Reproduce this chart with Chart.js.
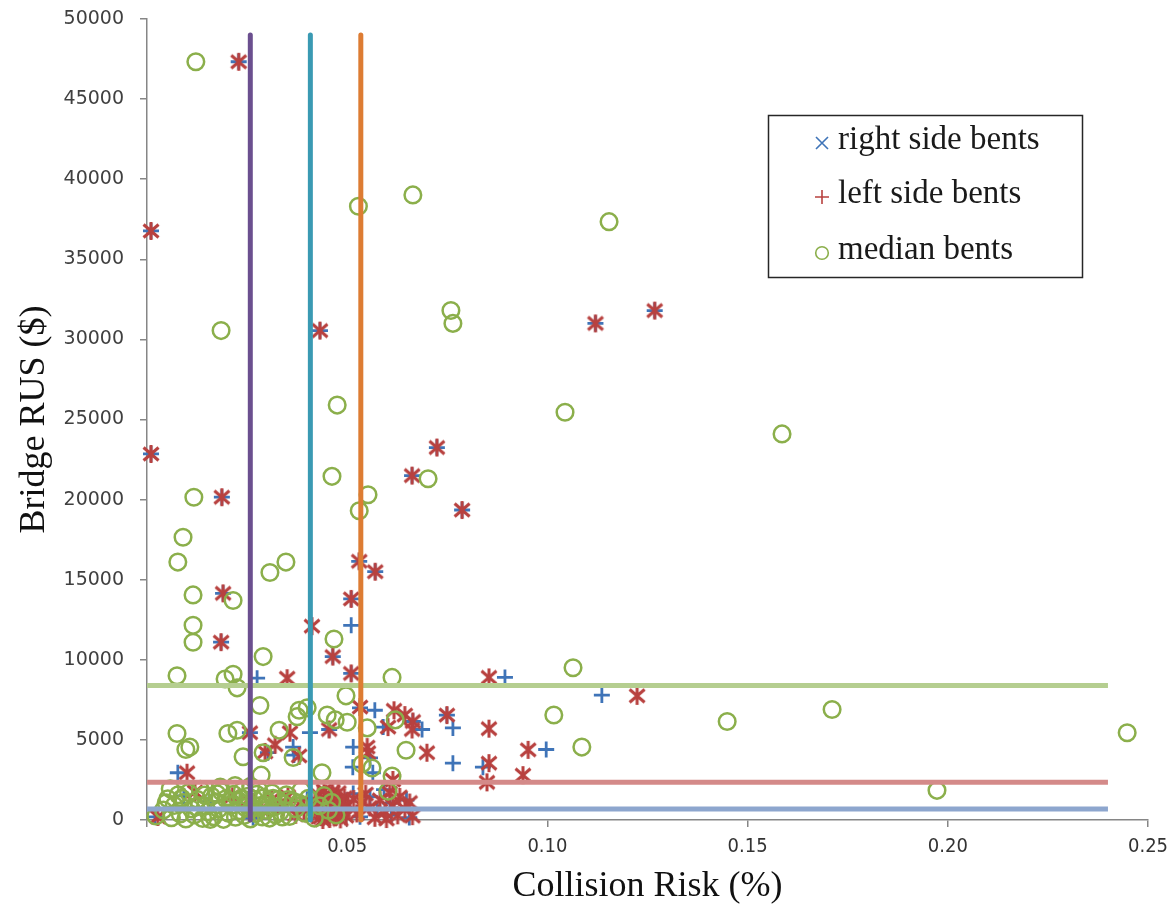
<!DOCTYPE html>
<html>
<head>
<meta charset="utf-8">
<title>Bridge RUS vs Collision Risk</title>
<script src="https://cdn.jsdelivr.net/npm/chart.js@4.4.1/dist/chart.umd.min.js"></script>
<style>
  html, body { margin: 0; padding: 0; background: #fff; }
  #wrap { width: 1167px; height: 913px; }
</style>
</head>
<body>
<div id="wrap"><canvas id="riskChart" width="1167" height="913"></canvas></div>
<script>
// series names as in the legend
const seriesNames = ["right side bents", "left side bents", "median bents"]

// [collision risk (%), bridge RUS ($)]
const rightSide = [
  [0.0229, 47330], [0.001, 36770], [0.001, 22850], [0.0187, 20150], [0.0432, 30550],
  [0.112, 31000], [0.1268, 31800], [0.0724, 23250], [0.0787, 19350], [0.0662, 21500],
  [0.053, 16150], [0.057, 15500], [0.019, 14150], [0.051, 13800], [0.051, 12150],
  [0.0185, 11100], [0.0464, 10200], [0.051, 9150], [0.0275, 8850], [0.0894, 8900],
  [0.0532, 7000], [0.0569, 6850], [0.1136, 7800], [0.0749, 6550], [0.0664, 6150],
  [0.0687, 5650], [0.0764, 5750], [0.059, 5800], [0.0455, 5650], [0.0407, 5450],
  [0.0257, 5450], [0.0997, 4400], [0.0515, 4550], [0.0365, 4550], [0.0302, 4200],
  [0.0367, 4050], [0.0557, 3880], [0.0764, 3550], [0.0839, 3300], [0.0514, 3300],
  [0.0564, 2950], [0.0077, 2950], [0.0092, 1500], [0.002, 200], [0.0155, 1150],
  [0.040, 1300], [0.0402, 800], [0.0445, 250], [0.048, 1250], [0.0515, 1650],
  [0.0557, 1450], [0.0532, 200], [0.0575, 650], [0.0607, 1050], [0.0648, 1250],
  [0.061, 300], [0.0265, 150], [0.033, 900], [0.0592, 1900], [0.0655, 150]
]

const leftSide = [
  [0.0229, 47330], [0.001, 36770], [0.001, 22850], [0.0187, 20150], [0.0432, 30550],
  [0.112, 31000], [0.1268, 31800], [0.0724, 23250], [0.0787, 19350], [0.0662, 21500],
  [0.053, 16150], [0.057, 15500], [0.019, 14150], [0.051, 13800], [0.0412, 12100],
  [0.0185, 11100], [0.0464, 10200], [0.051, 9150], [0.035, 8850], [0.0854, 8900],
  [0.1224, 7750], [0.0532, 7050], [0.0617, 6850], [0.0644, 6550], [0.0749, 6550],
  [0.0664, 6150], [0.0662, 5650], [0.0854, 5700], [0.0602, 5800], [0.0455, 5650],
  [0.0357, 5450], [0.0257, 5450], [0.0699, 4200], [0.0952, 4380], [0.055, 4550],
  [0.032, 4700], [0.0295, 4250], [0.038, 4000], [0.0552, 4200], [0.0854, 3550],
  [0.0849, 2350], [0.0939, 2800], [0.0614, 2500], [0.01, 2950], [0.012, 1750],
  [0.0027, 190], [0.0253, 1250], [0.0312, 1280], [0.034, 780], [0.0352, 1460],
  [0.0371, 320], [0.0383, 1020], [0.0392, 610], [0.0413, 290], [0.0419, 1130],
  [0.0424, 640], [0.0428, 1560], [0.0434, 180], [0.0437, 930], [0.0442, 1830],
  [0.0444, 430], [0.0448, 1240], [0.0451, 720], [0.0456, 60], [0.0458, 1490],
  [0.0462, 1010], [0.0466, 480], [0.0469, 1320], [0.0471, 190], [0.0475, 860],
  [0.0478, 1710], [0.0481, 390], [0.0485, 1120], [0.0489, 590], [0.0493, 1400],
  [0.0497, 240], [0.0502, 960], [0.0516, 1310], [0.0524, 410], [0.0546, 1620],
  [0.0556, 790], [0.0569, 140], [0.0582, 1260], [0.0594, 510], [0.0606, 1690],
  [0.0614, 880], [0.0626, 290], [0.0631, 1440], [0.0644, 690], [0.0656, 1090],
  [0.0663, 240], [0.0429, 1010], [0.0446, 1580], [0.0463, 1760], [0.0476, 1190],
  [0.0491, 830], [0.0439, 0], [0.0483, 40], [0.0538, 1100], [0.0598, 60],
  [0.0213, 1480], [0.0287, 620]
]

const medianBents = [
  [0.0122, 47330], [0.0528, 38310], [0.0664, 39020], [0.1154, 37350], [0.0185, 30550],
  [0.0759, 31800], [0.0764, 31000], [0.0475, 25900], [0.1044, 25450], [0.1586, 24100],
  [0.0462, 21450], [0.0702, 21300], [0.0117, 20150], [0.0552, 20300], [0.053, 19300],
  [0.009, 17650], [0.0077, 16100], [0.0347, 16100], [0.0307, 15450], [0.0115, 14050],
  [0.0215, 13700], [0.0115, 12150], [0.0115, 11100], [0.0467, 11300], [0.029, 10200],
  [0.1064, 9500], [0.0075, 9000], [0.0195, 8800], [0.0215, 9100], [0.0225, 8250],
  [0.0612, 8900], [0.0497, 7750], [0.0282, 7150], [0.038, 6850], [0.040, 7000],
  [0.0375, 6450], [0.045, 6550], [0.047, 6250], [0.050, 6100], [0.062, 6250],
  [0.055, 5750], [0.1016, 6550], [0.1449, 6150], [0.1711, 6900], [0.2448, 5450],
  [0.1086, 4550], [0.1973, 1850], [0.0075, 5400], [0.0097, 4400], [0.0107, 4550],
  [0.0202, 5400], [0.0225, 5600], [0.024, 3950], [0.033, 5600], [0.029, 4200],
  [0.0365, 3900], [0.0537, 3500], [0.0562, 3250], [0.0647, 4350], [0.0437, 2950],
  [0.0602, 1800], [0.0612, 2750], [0.0285, 2800], [0.022, 2150],
  [0.0022, 250], [0.0041, 620], [0.0052, 1330], [0.0061, 140], [0.0068, 910],
  [0.0078, 1580], [0.0083, 380], [0.0091, 1090], [0.0097, 60], [0.0104, 1720],
  [0.0111, 690], [0.0118, 310], [0.0126, 1280], [0.0133, 1910], [0.0139, 90],
  [0.0146, 870], [0.0152, 520], [0.0161, 1490], [0.0166, 210], [0.0171, 1130],
  [0.0179, 680], [0.0186, 1770], [0.0191, 40], [0.0197, 1320], [0.0203, 430],
  [0.0211, 940], [0.0216, 1600], [0.0221, 170], [0.0228, 1210], [0.0232, 580],
  [0.0238, 1830], [0.0243, 290], [0.0249, 1020], [0.0252, 1480], [0.0258, 70],
  [0.0263, 730], [0.0268, 1290], [0.0272, 410], [0.0279, 1880], [0.0283, 900],
  [0.0288, 190], [0.0292, 1390], [0.0297, 610], [0.0301, 1110], [0.0306, 120],
  [0.0312, 1690], [0.0317, 790], [0.0321, 330], [0.0327, 1270], [0.0333, 520],
  [0.0341, 980], [0.0348, 1580], [0.0356, 220], [0.0364, 1190], [0.0372, 700],
  [0.0385, 1860], [0.0394, 430], [0.0403, 1350], [0.0418, 120], [0.0431, 890],
  [0.0442, 1520], [0.0453, 610], [0.0461, 1110], [0.0472, 310],
  [0.0058, 1950], [0.0087, 1350], [0.0122, 820], [0.0143, 1560], [0.0158, 30],
  [0.0175, 1630], [0.0207, 1160], [0.0236, 1360], [0.0246, 770], [0.0274, 1600],
  [0.0295, 930], [0.0315, 1350], [0.0338, 190], [0.0352, 1270], [0.0379, 1060],
  [0.0048, 1070], [0.0183, 2050], [0.0259, 2100]
]

// reference lines: three risk thresholds, three mean RUS levels
const riskLines = [0.0258, 0.0408, 0.0534]
const rusLines = [8400, 2350, 690]
const riskLineTop = 49000
const rusLineEnd = 0.24

const riskColors = ["#6B4F8F", "#3A9AB3", "#DD7C33"]
const rusColors = ["#B5CE90", "#D48A89", "#8DA6CE"]
const blue = "#3F74B8"
const red = "#B8413F"
const green = "#8BAF4B"

// Excel style star marker: x with a vertical bar
function starMarker(color) {
  const c = document.createElement("canvas")
  c.width = 20
  c.height = 20
  const g = c.getContext("2d")
  g.strokeStyle = color
  g.lineWidth = 3
  g.beginPath()
  g.moveTo(2.5, 3.5); g.lineTo(17.5, 16.5)
  g.moveTo(17.5, 3.5); g.lineTo(2.5, 16.5)
  g.moveTo(10, 1); g.lineTo(10, 19)
  g.stroke()
  return c
}

function toPoints(rows) {
  return rows.map(r => ({ x: r[0], y: r[1] }))
}

const lineSets = []
riskLines.forEach((v, i) => {
  lineSets.push({
    label: "risk " + i,
    data: [{ x: v, y: 0 }, { x: v, y: riskLineTop }],
    showLine: true, pointRadius: 0, borderWidth: 5,
    borderColor: riskColors[i], borderCapStyle: "round", order: 0, clip: false
  })
})
rusLines.forEach((v, i) => {
  lineSets.push({
    label: "rus " + i,
    data: [{ x: 0, y: v }, { x: rusLineEnd, y: v }],
    showLine: true, pointRadius: 0, borderWidth: 5,
    borderColor: rusColors[i], borderCapStyle: "butt", order: 0, clip: false
  })
})

const legendBox = {
  id: "legendBox",
  afterDraw(chart) {
    const ctx = chart.ctx
    ctx.save()
    ctx.fillStyle = "#fff"
    ctx.fillRect(768, 115, 315, 163)
    ctx.strokeStyle = "#262626"
    ctx.lineWidth = 1.5
    ctx.strokeRect(768.5, 115.5, 314, 162)

    const rows = [143, 197, 253]
    const mx = 822
    ctx.lineWidth = 1.6
    // x
    ctx.strokeStyle = blue
    ctx.beginPath()
    ctx.moveTo(mx - 6, rows[0] - 6); ctx.lineTo(mx + 6, rows[0] + 6)
    ctx.moveTo(mx + 6, rows[0] - 6); ctx.lineTo(mx - 6, rows[0] + 6)
    ctx.stroke()
    // +
    ctx.strokeStyle = red
    ctx.beginPath()
    ctx.moveTo(mx - 7, rows[1]); ctx.lineTo(mx + 7, rows[1])
    ctx.moveTo(mx, rows[1] - 7); ctx.lineTo(mx, rows[1] + 7)
    ctx.stroke()
    // o
    ctx.strokeStyle = green
    ctx.beginPath()
    ctx.arc(mx, rows[2], 6.3, 0, Math.PI * 2)
    ctx.stroke()

    ctx.fillStyle = "#1a1a1a"
    ctx.font = "33px 'Liberation Serif', 'Times New Roman', serif"
    ctx.textBaseline = "middle"
    ctx.textAlign = "left"
    seriesNames.forEach((name, i) => ctx.fillText(name, 838, rows[i] - 3))
    ctx.restore()
  }
}

new Chart(document.getElementById("riskChart"), {
  type: "scatter",
  data: {
    datasets: [
      ...lineSets,
      {
        label: seriesNames[2], data: toPoints(medianBents), order: 1, clip: false,
        pointStyle: "circle", pointRadius: 8.3, borderWidth: 2.5,
        borderColor: green, backgroundColor: "rgba(0,0,0,0)"
      },
      {
        label: seriesNames[1], data: toPoints(leftSide), order: 2, clip: false,
        pointStyle: starMarker(red), pointRadius: 10
      },
      {
        label: seriesNames[0], data: toPoints(rightSide), order: 3, clip: false,
        pointStyle: "cross", pointRadius: 8, borderWidth: 2.8, borderColor: blue
      }
    ]
  },
  options: {
    responsive: false,
    animation: false,
    events: [],
    layout: { padding: { top: 19, right: 19, left: 0, bottom: 0 } },
    plugins: { legend: { display: false }, tooltip: { enabled: false } },
    scales: {
      x: {
        type: "linear", min: 0, max: 0.25,
        ticks: {
          stepSize: 0.05, maxRotation: 0, padding: 8, color: "#333",
          font: { family: "'Liberation Sans Narrow', 'DejaVu Sans Condensed', sans-serif", size: 20 },
          callback: v => (v === 0 ? "" : v.toFixed(2))
        },
        grid: { drawOnChartArea: false, tickLength: 7, color: "#868686", lineWidth: 1.5 },
        border: { color: "#868686", width: 1.5 },
        title: {
          display: true, text: "Collision Risk (%)", color: "#111",
          font: { family: "'Liberation Serif', serif", size: 36 },
          padding: { top: 0, bottom: 5 }
        },
        afterFit(s) {
          s.height = 93
          s.paddingLeft = 0
          s.paddingRight = 0
        }
      },
      y: {
        min: 0, max: 50000,
        ticks: {
          stepSize: 5000, padding: 16, color: "#404040",
          font: { family: "'DejaVu Sans', Verdana, sans-serif", size: 19 },
          callback: v => String(v)
        },
        grid: { drawOnChartArea: false, tickLength: 7, color: "#868686", lineWidth: 1.5 },
        border: { color: "#868686", width: 1.5 },
        title: {
          display: true, text: "Bridge RUS ($)", color: "#111",
          font: { family: "'Liberation Serif', serif", size: 36 },
          padding: { top: 13, bottom: 0 }
        },
        afterFit(s) {
          s.width = 147
          s.paddingTop = 0
          s.paddingBottom = 0
        }
      }
    }
  },
  plugins: [legendBox]
})
</script>
</body>
</html>
